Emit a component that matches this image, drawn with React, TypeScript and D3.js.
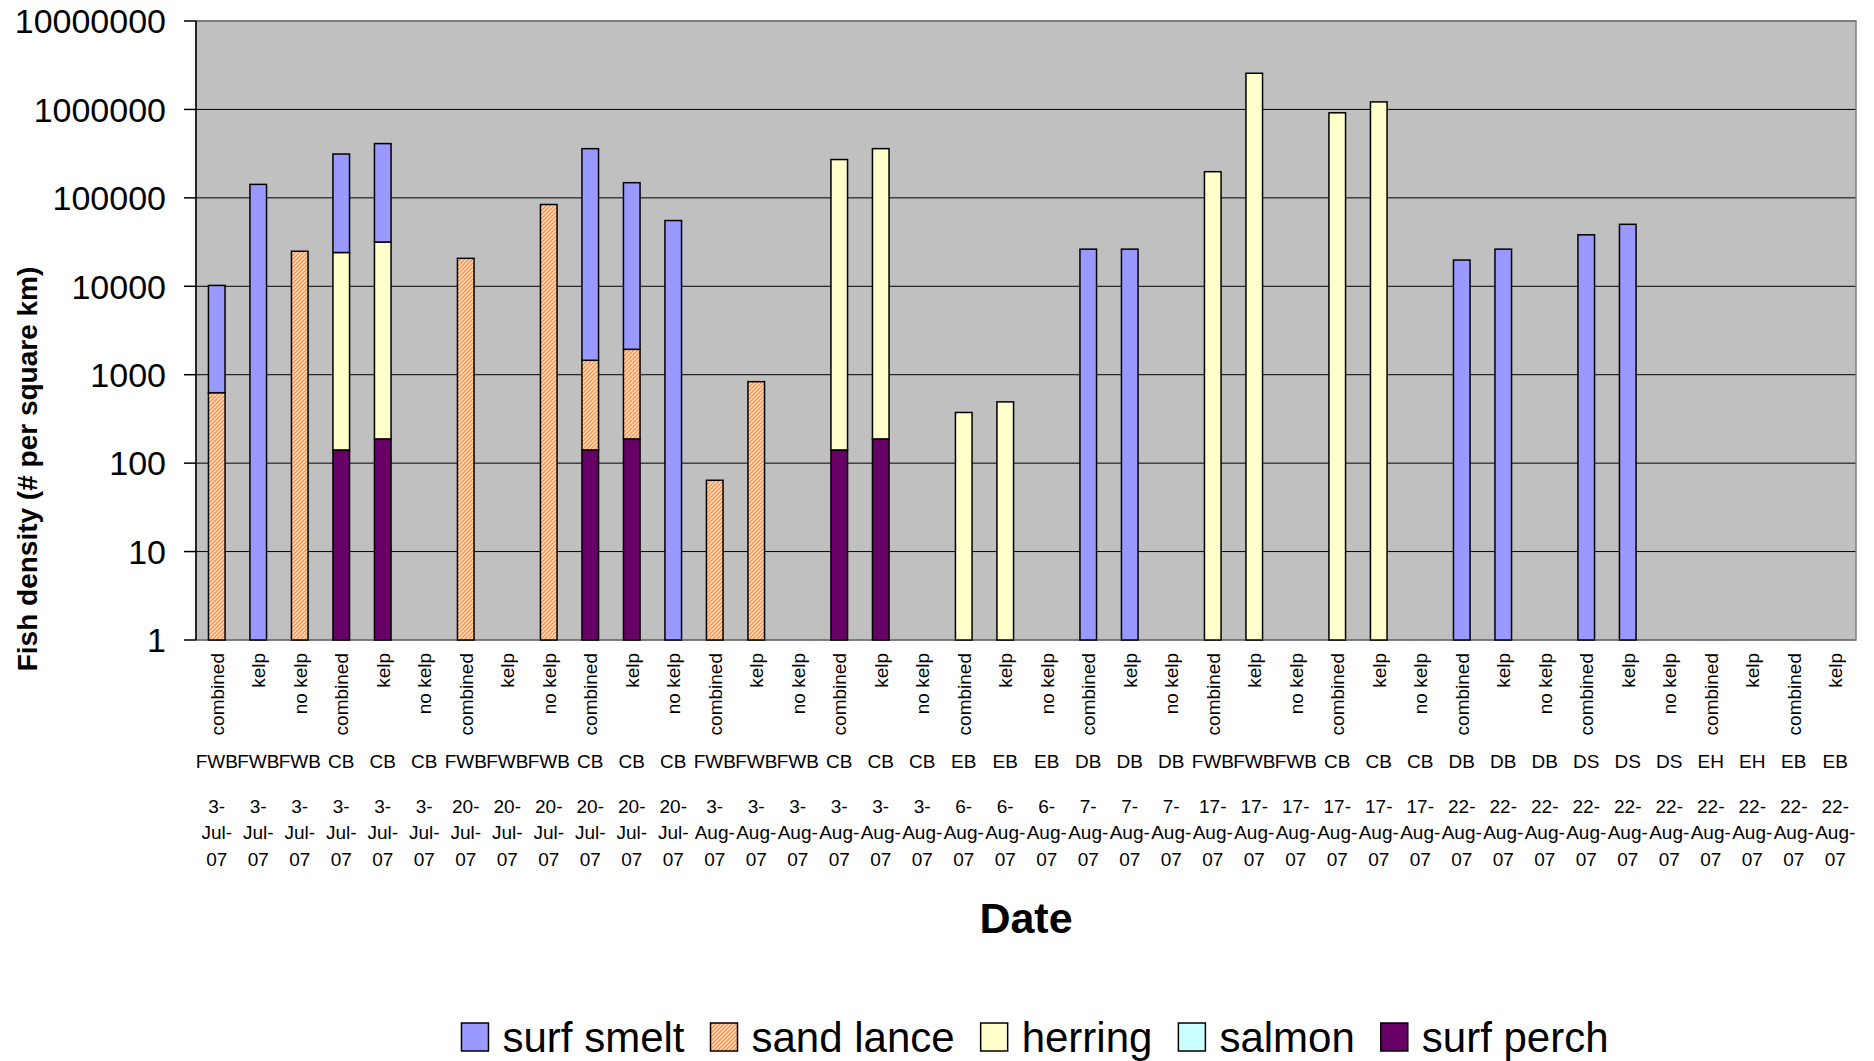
import React from "react";
import * as d3 from "d3";

const habitats = [
  "combined", "kelp", "no kelp", "combined", "kelp", "no kelp",
  "combined", "kelp", "no kelp", "combined", "kelp", "no kelp",
  "combined", "kelp", "no kelp", "combined", "kelp", "no kelp",
  "combined", "kelp", "no kelp", "combined", "kelp", "no kelp",
  "combined", "kelp", "no kelp", "combined", "kelp", "no kelp",
  "combined", "kelp", "no kelp", "combined", "kelp", "no kelp",
  "combined", "kelp", "combined", "kelp",
];
const sites = [
  "FWB", "FWB", "FWB", "CB", "CB", "CB",
  "FWB", "FWB", "FWB", "CB", "CB", "CB",
  "FWB", "FWB", "FWB", "CB", "CB", "CB",
  "EB", "EB", "EB", "DB", "DB", "DB",
  "FWB", "FWB", "FWB", "CB", "CB", "CB",
  "DB", "DB", "DB", "DS", "DS", "DS",
  "EH", "EH", "EB", "EB",
];
const dates = [
  "3-Jul-07", "3-Jul-07", "3-Jul-07", "3-Jul-07", "3-Jul-07", "3-Jul-07",
  "20-Jul-07", "20-Jul-07", "20-Jul-07", "20-Jul-07", "20-Jul-07", "20-Jul-07",
  "3-Aug-07", "3-Aug-07", "3-Aug-07", "3-Aug-07", "3-Aug-07", "3-Aug-07",
  "6-Aug-07", "6-Aug-07", "6-Aug-07", "7-Aug-07", "7-Aug-07", "7-Aug-07",
  "17-Aug-07", "17-Aug-07", "17-Aug-07", "17-Aug-07", "17-Aug-07", "17-Aug-07",
  "22-Aug-07", "22-Aug-07", "22-Aug-07", "22-Aug-07", "22-Aug-07", "22-Aug-07",
  "22-Aug-07", "22-Aug-07", "22-Aug-07", "22-Aug-07",
];

const surfSmelt = [
  9600, 142000, 0, 289000, 379000, 0,
  0, 0, 0, 358500, 146500, 55400,
  0, 0, 0, 0, 0, 0,
  0, 0, 0, 26300, 26300, 0,
  0, 0, 0, 0, 0, 0,
  19800, 26300, 0, 38200, 50200, 0,
  0, 0, 0, 0,
];
const sandLance = [
  626, 0, 24900, 0, 0, 0,
  20700, 0, 84100, 1315, 1750, 0,
  64, 834, 0, 0, 0, 0,
  0, 0, 0, 0, 0, 0,
  0, 0, 0, 0, 0, 0,
  0, 0, 0, 0, 0, 0,
  0, 0, 0, 0,
];
const herring = [
  0, 0, 0, 23960, 31500, 0,
  0, 0, 0, 0, 0, 0,
  0, 0, 0, 270900, 360000, 0,
  374, 493, 0, 0, 0, 0,
  197600, 2565000, 0, 916000, 1216000, 0,
  0, 0, 0, 0, 0, 0,
  0, 0, 0, 0,
];
const salmon = [
  0, 0, 0, 0, 0, 0, 0, 0, 0, 0,
  0, 0, 0, 0, 0, 0, 0, 0, 0, 0,
  0, 0, 0, 0, 0, 0, 0, 0, 0, 0,
  0, 0, 0, 0, 0, 0, 0, 0, 0, 0,
];
const surfPerch = [
  0, 0, 0, 141, 188, 0,
  0, 0, 0, 141, 188, 0,
  0, 0, 0, 141, 188, 0,
  0, 0, 0, 0, 0, 0,
  0, 0, 0, 0, 0, 0,
  0, 0, 0, 0, 0, 0,
  0, 0, 0, 0,
];

const yTicks = [1, 10, 100, 1000, 10000, 100000, 1000000, 10000000];
const legendNames = ["surf smelt", "sand lance", "herring", "salmon", "surf perch"];

const seriesDefs = [
  { key: "surfPerch", name: "surf perch", values: surfPerch, fill: "#660066" },
  { key: "salmon", name: "salmon", values: salmon, fill: "#CCFFFF" },
  { key: "herring", name: "herring", values: herring, fill: "#FFFFCC" },
  { key: "sandLance", name: "sand lance", values: sandLance, fill: "url(#hatch)" },
  { key: "surfSmelt", name: "surf smelt", values: surfSmelt, fill: "#9999FF" },
];

const W = 1874;
const H = 1061;
const FONT = "Arial, 'Liberation Sans', sans-serif";

export default function App() {
  React.useEffect(() => {
    document.body.style.margin = "0";
  }, []);

  const left = 196, right = 1856, top = 21, bottom = 640;
  const x = d3.scaleBand<number>()
    .domain(d3.range(habitats.length))
    .range([left, right])
    .paddingInner(0.6)
    .paddingOuter(0.3);
  const y = d3.scaleLog().domain([1, 1e7]).range([bottom, top]);

  const rows = habitats.map((_, i) => {
    const r: any = { i };
    seriesDefs.forEach((s) => (r[s.key] = s.values[i]));
    return r;
  });
  const stack = d3.stack().keys(seriesDefs.map((s) => s.key));
  const stacked = stack(rows as any);

  const center = (i: number) => (x(i) as number) + x.bandwidth() / 2;

  let measure = (t: string) => t.length * 20;
  try {
    const ctx = document.createElement("canvas").getContext("2d");
    if (ctx) {
      ctx.font = "42px Arial, 'Liberation Sans'";
      measure = (t: string) => ctx.measureText(t).width;
    }
  } catch (e) {}
  const sw = 27, gap1 = 14, gap2 = 26;
  const widths = legendNames.map((n) => sw + gap1 + measure(n));
  const total = d3.sum(widths) + gap2 * (legendNames.length - 1);
  let lx = 1035 - total / 2;
  const legendItems = legendNames.map((n, k) => {
    const item = { name: n, x: lx, def: seriesDefs.find((s) => s.name === n)! };
    lx += widths[k] + gap2;
    return item;
  });

  return (
    <svg width={W} height={H} style={{ display: "block", background: "#fff" }} fontFamily={FONT}>
      <defs>
        <pattern id="hatch" patternUnits="userSpaceOnUse" width="4" height="4">
          <rect width="4" height="4" fill="#FFE4CC" />
          <path d="M-1,1 l2,-2 M0,4 l4,-4 M3,5 l2,-2" stroke="#F7944F" strokeWidth="1.5" />
        </pattern>
      </defs>
      <rect x={left} y={top} width={right - left} height={bottom - top} fill="#C0C0C0" />
      {yTicks.map((t) => (
        <line key={"g" + t} x1={left} x2={right} y1={y(t)} y2={y(t)} stroke="#000" strokeWidth={1} />
      ))}
      <rect x={left} y={top} width={right - left} height={bottom - top} fill="none" stroke="#808080" strokeWidth={1.5} />
      {stacked.map((layer, li) => (
        <g key={layer.key}>
          {layer.map((d, i) => {
            const v0 = Math.max(d[0], 1);
            const v1 = d[1];
            if (v1 <= v0 || seriesDefs[li].values[i] <= 0) return null;
            return (
              <rect
                key={i}
                x={x(i)}
                width={x.bandwidth()}
                y={y(v1)}
                height={y(v0) - y(v1)}
                fill={seriesDefs[li].fill}
                stroke="#000"
                strokeWidth={1.5}
              />
            );
          })}
        </g>
      ))}
      <line x1={left} x2={left} y1={top} y2={bottom} stroke="#000" strokeWidth={1.5} />
      {yTicks.map((t) => (
        <g key={"t" + t}>
          <line x1={left - 12} x2={left} y1={y(t)} y2={y(t)} stroke="#000" strokeWidth={1.5} />
          <text x={166} y={y(t)} dy="0.36em" textAnchor="end" fontSize={34} fill="#000">
            {String(t)}
          </text>
        </g>
      ))}
      <text
        transform={`translate(37,469) rotate(-90)`}
        textAnchor="middle"
        fontSize={28}
        fontWeight="bold"
        fill="#000"
      >
        Fish density (# per square km)
      </text>
      {habitats.map((h, i) => {
        const cx = center(i);
        const parts = dates[i].split("-");
        return (
          <g key={"xl" + i} fontSize={19} fill="#000">
            <text transform={`translate(${cx},653) rotate(-90)`} dy="0.36em" textAnchor="end">
              {h}
            </text>
            <text x={cx} y={768} textAnchor="middle">{sites[i]}</text>
            <text x={cx} y={813} textAnchor="middle">{parts[0] + "-"}</text>
            <text x={cx} y={839} textAnchor="middle">{parts[1] + "-"}</text>
            <text x={cx} y={866} textAnchor="middle">{parts[2]}</text>
          </g>
        );
      })}
      <text x={(left + right) / 2} y={933} textAnchor="middle" fontSize={43} fontWeight="bold" fill="#000">
        Date
      </text>
      {legendItems.map((it) => (
        <g key={it.name}>
          <rect x={it.x} y={1023} width={sw} height={28} fill={it.def.fill} stroke="#000" strokeWidth={1.5} />
          <text x={it.x + sw + gap1} y={1052} fontSize={42} fill="#000">
            {it.name}
          </text>
        </g>
      ))}
    </svg>
  );
}
